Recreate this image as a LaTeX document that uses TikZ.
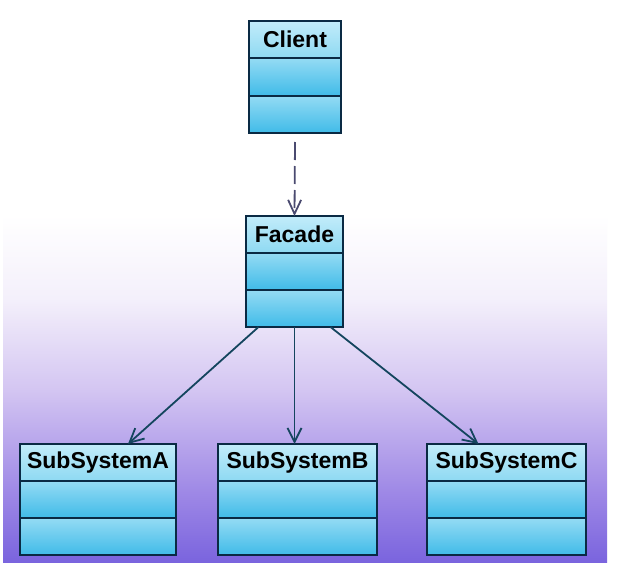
\documentclass[tikz,border=0pt]{standalone}
\usepackage{fontspec}
\setmainfont{Liberation Sans}
\usetikzlibrary{arrows.meta,calc,fit}
\definecolor{bord}{HTML}{0A2A44}
\definecolor{hdrtop}{HTML}{C2ECFA}
\definecolor{hdrbot}{HTML}{8ED9F2}
\definecolor{cmptop}{HTML}{94DBF4}
\definecolor{cmpbot}{HTML}{40BBE8}
\definecolor{linecol}{HTML}{14455E}
\definecolor{dashcol}{HTML}{4A4A70}
\definecolor{bgA}{HTML}{7A64DE}
\definecolor{bgB}{HTML}{9E88E6}
\definecolor{bgC}{HTML}{D4C6F2}
\definecolor{bgD}{HTML}{F4F0FB}
\pgfdeclareverticalshading{bgshade}{100bp}{color(0bp)=(bgA); color(25bp)=(bgA); color(35bp)=(bgB); color(50bp)=(bgC); color(63bp)=(bgD); color(75bp)=(white); color(100bp)=(white)}
\tikzset{
  boxborder/.style={draw=bord, line width=1.8pt, inner sep=0pt, outer sep=0pt},
  boxlabel/.style={font=\bfseries\fontsize{23}{23}\selectfont, text=black, inner sep=0pt},
  assoc/.style={draw=linecol, line width=1.8pt, -{Straight Barb[length=14pt,width=14pt,line width=1.8pt]}},
  dep/.style={draw=dashcol, line width=1.8pt, dash pattern=on 18pt off 6pt, -{Straight Barb[length=14pt,width=13pt,line width=1.8pt]}}
}
\newcommand\umlclassbox[6]{%
  \pgfmathsetmacro\hh{(#5-#3)/3}%
  \pgfmathsetmacro\ya{#3+\hh}%
  \pgfmathsetmacro\yb{#3+2*\hh}%
  \pgfmathsetmacro\yc{#3+\hh/2}%
  \pgfmathsetmacro\xc{(#2+#4)/2}%
  \shade[top color=hdrtop, bottom color=hdrbot] (#2,#3) rectangle (#4,\ya);
  \shade[top color=cmptop, bottom color=cmpbot] (#2,\ya) rectangle (#4,\yb);
  \shade[top color=cmptop, bottom color=cmpbot] (#2,\yb) rectangle (#4,#5);
  \draw[bord, line width=1.8pt] (#2,\ya) -- (#4,\ya);
  \draw[bord, line width=1.8pt] (#2,\yb) -- (#4,\yb);
  \coordinate (#1-nw) at (#2,#3);
  \coordinate (#1-se) at (#4,#5);
  \node[boxborder, fit=(#1-nw)(#1-se)] (#1) {};
  \node[boxlabel] (#1-label) at (\xc,\yc) {#6};
}
\begin{document}
\begin{tikzpicture}[x=1pt,y=-1pt]
\useasboundingbox (0,0) rectangle (624,570);
\fill[white] (0,0) rectangle (624,570);
\shade[shading=bgshade] (3,215) rectangle (607,562);
\umlclassbox{client}{249}{21}{341}{133}{Client}
\umlclassbox{facade}{246}{216}{343}{327}{Facade}
\umlclassbox{subA}{20}{444}{176}{555}{SubSystemA}
\umlclassbox{subB}{218}{444}{377}{555}{SubSystemB}
\umlclassbox{subC}{427}{444}{586}{555}{SubSystemC}
\draw[dep] ($(client.south)+(0,9)$) -- (facade.north);
\draw[assoc] ($(facade.south)+(-36,0)$) -- ($(subA.north)+(30,0)$);
\draw[assoc] (facade.south) -- ($(subB.north)+(-3,0)$);
\draw[assoc] ($(facade.south)+(36,0)$) -- ($(subC.north)+(-28,0)$);
\end{tikzpicture}
\end{document}
